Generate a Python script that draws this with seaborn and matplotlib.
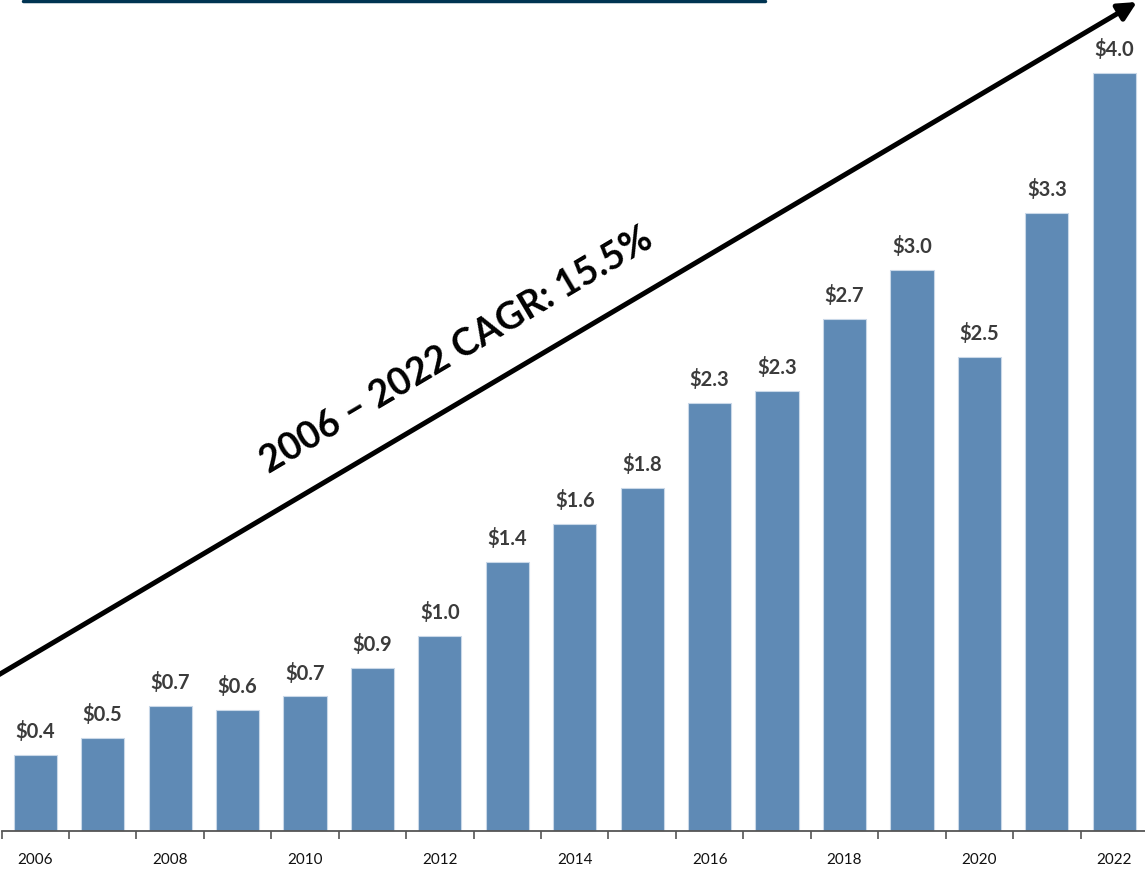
import matplotlib
matplotlib.use("Agg")
import matplotlib.pyplot as plt
from matplotlib.lines import Line2D
from matplotlib.ticker import FixedLocator
import seaborn as sns
import pandas as pd

# Annual values ($)
years = [str(y) for y in range(2006, 2023)]
values = [0.40, 0.49, 0.66, 0.64, 0.71, 0.86, 1.03, 1.42, 1.62, 1.81,
          2.26, 2.32, 2.70, 2.96, 2.50, 3.26, 4.00]
shown_years = ["2006", "2008", "2010", "2012", "2014", "2016", "2018", "2020", "2022"]
cagr_text = "2006 – 2022 CAGR: 15.5%"

sns.set_style("white")
plt.rcParams["font.family"] = ["Lato", "DejaVu Sans"]

df = pd.DataFrame({"year": years, "value": values})

fig = plt.figure(figsize=(11.45, 8.7), dpi=100)
ax = fig.add_axes([1.5 / 1145, 38 / 870, 1146.5 / 1145, 832 / 870])

sns.barplot(data=df, x="year", y="value", color="#5f8ab5", saturation=1,
            width=0.64, edgecolor="#c9d8e8", linewidth=0.8, ax=ax)

ax.bar_label(ax.containers[0], fmt="${:.1f}", padding=10,
             fontsize=14.5, fontweight="bold", color="#3b3b3b")

ax.set_xlim(-0.5, len(years) - 0.5)
ax.set_ylim(0, 4.39)
ax.set_xlabel("")
ax.set_ylabel("")
ax.set_yticks([])

# year labels on every other bar, tick marks between bars
ax.set_xticks(range(len(years)))
ax.set_xticklabels([y if y in shown_years else "" for y in years],
                   fontsize=11, color="#111111")
ax.tick_params(axis="x", which="major", length=0, pad=15)
ax.xaxis.set_minor_locator(FixedLocator([i - 0.5 for i in range(len(years) + 1)]))
ax.tick_params(axis="x", which="minor", length=6, width=1.2,
               color="#555555", direction="out", bottom=True)

for side in ["top", "right", "left"]:
    ax.spines[side].set_visible(False)
ax.spines["bottom"].set_color("#555555")
ax.spines["bottom"].set_linewidth(1.3)

# growth arrow and label
ax.annotate("", xy=(1137, 867), xycoords="figure pixels",
            xytext=(-5, 192), textcoords="figure pixels",
            arrowprops=dict(arrowstyle="-|>,head_length=1.1,head_width=0.55",
                            color="black", lw=3.6, shrinkA=0, shrinkB=0))
fig.text(457 / 1145, 1 - 350 / 870, cagr_text, rotation=30.6,
         rotation_mode="anchor", ha="center", va="center",
         fontsize=27, fontweight="bold", color="black")

# header rule
fig.add_artist(Line2D([23 / 1145, 765 / 1145], [1 - 1.5 / 870, 1 - 1.5 / 870],
                      transform=fig.transFigure, color="#003452", lw=2.5))

fig.savefig("out.png", dpi=100)
